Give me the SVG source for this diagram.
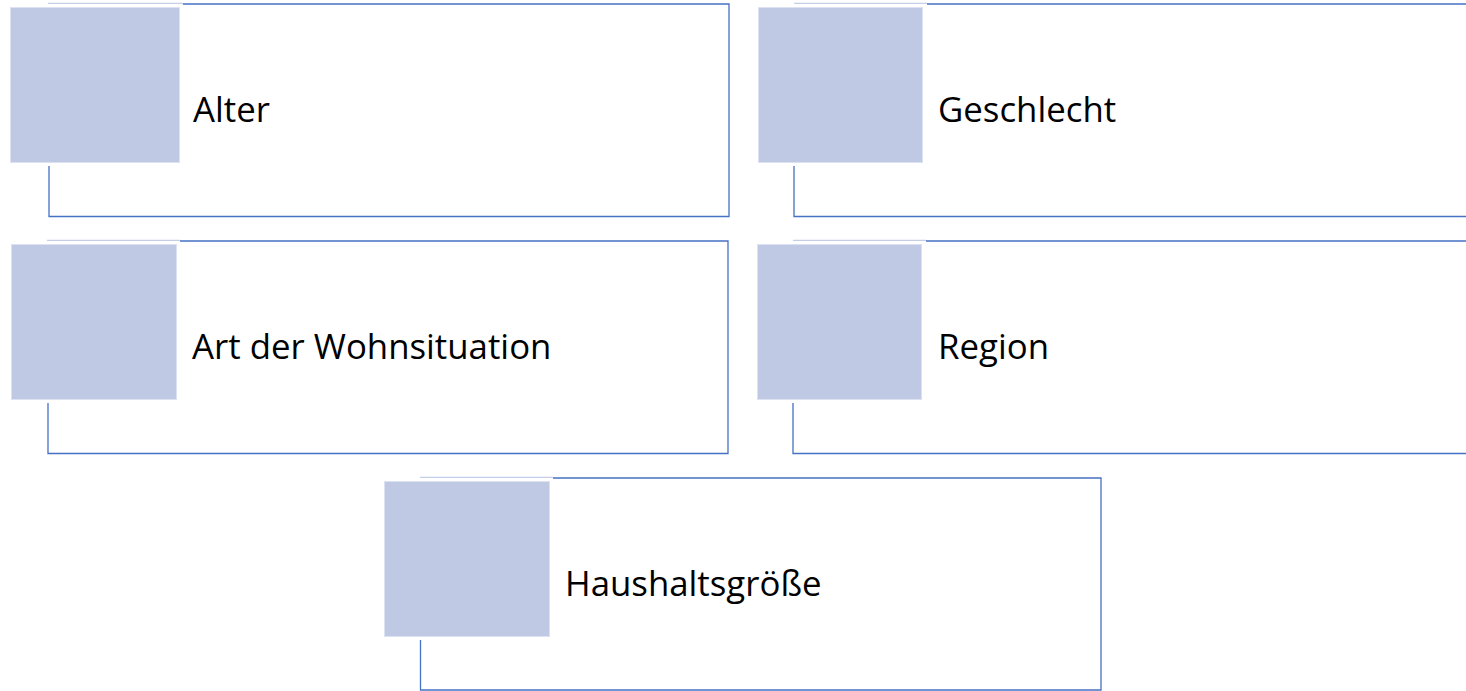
<svg xmlns="http://www.w3.org/2000/svg" width="1466" height="691" viewBox="0 0 1466 691">
<style>
.frame{fill:none;stroke:#4472C4;stroke-width:1.3}
.lite{stroke:#C5CEE8;stroke-width:1.3}
.sq{fill:#BFC9E4;stroke:#DCE2F1;stroke-width:1}
.lbl{font-family:"Open Sans","Noto Sans","Liberation Sans",sans-serif;font-size:34.8px;fill:#000}
</style>
<rect width="1466" height="691" fill="#fff"/>
<g id="connectors"></g>
<g id="node-alter">
<path class="frame" d="M183,4 H729 V216.5 H49 V166"/>
<line class="lite" x1="48" y1="3.4" x2="183" y2="3.4"/>
<rect class="sq" x="10.5" y="7.5" width="169" height="155"/>
<text class="lbl" x="193" y="122">Alter</text>
</g>
<g id="node-geschlecht">
<path class="frame" d="M927,4 H1475 M1475,216.5 H794 V166"/>
<line class="lite" x1="794" y1="3.4" x2="927" y2="3.4"/>
<rect class="sq" x="758.5" y="7.5" width="164" height="155"/>
<text class="lbl" x="938" y="122">Geschlecht</text>
</g>
<g id="node-wohnsituation">
<path class="frame" d="M180,241 H728 V453.5 H48 V403"/>
<line class="lite" x1="47" y1="240.4" x2="180" y2="240.4"/>
<rect class="sq" x="11.5" y="244.5" width="165" height="155"/>
<text class="lbl" x="192" y="359">Art der Wohnsituation</text>
</g>
<g id="node-region">
<path class="frame" d="M926,241 H1475 M1475,453.5 H793 V403"/>
<line class="lite" x1="793" y1="240.4" x2="926" y2="240.4"/>
<rect class="sq" x="757.5" y="244.5" width="164" height="155"/>
<text class="lbl" x="938" y="359">Region</text>
</g>
<g id="node-haushalt">
<path class="frame" d="M553,478 H1101 V690 H420.5 V640"/>
<line class="lite" x1="420" y1="477.4" x2="553" y2="477.4"/>
<rect class="sq" x="384.5" y="481.5" width="165" height="155"/>
<text class="lbl" x="565" y="596">Haushaltsgröße</text>
</g>
</svg>
